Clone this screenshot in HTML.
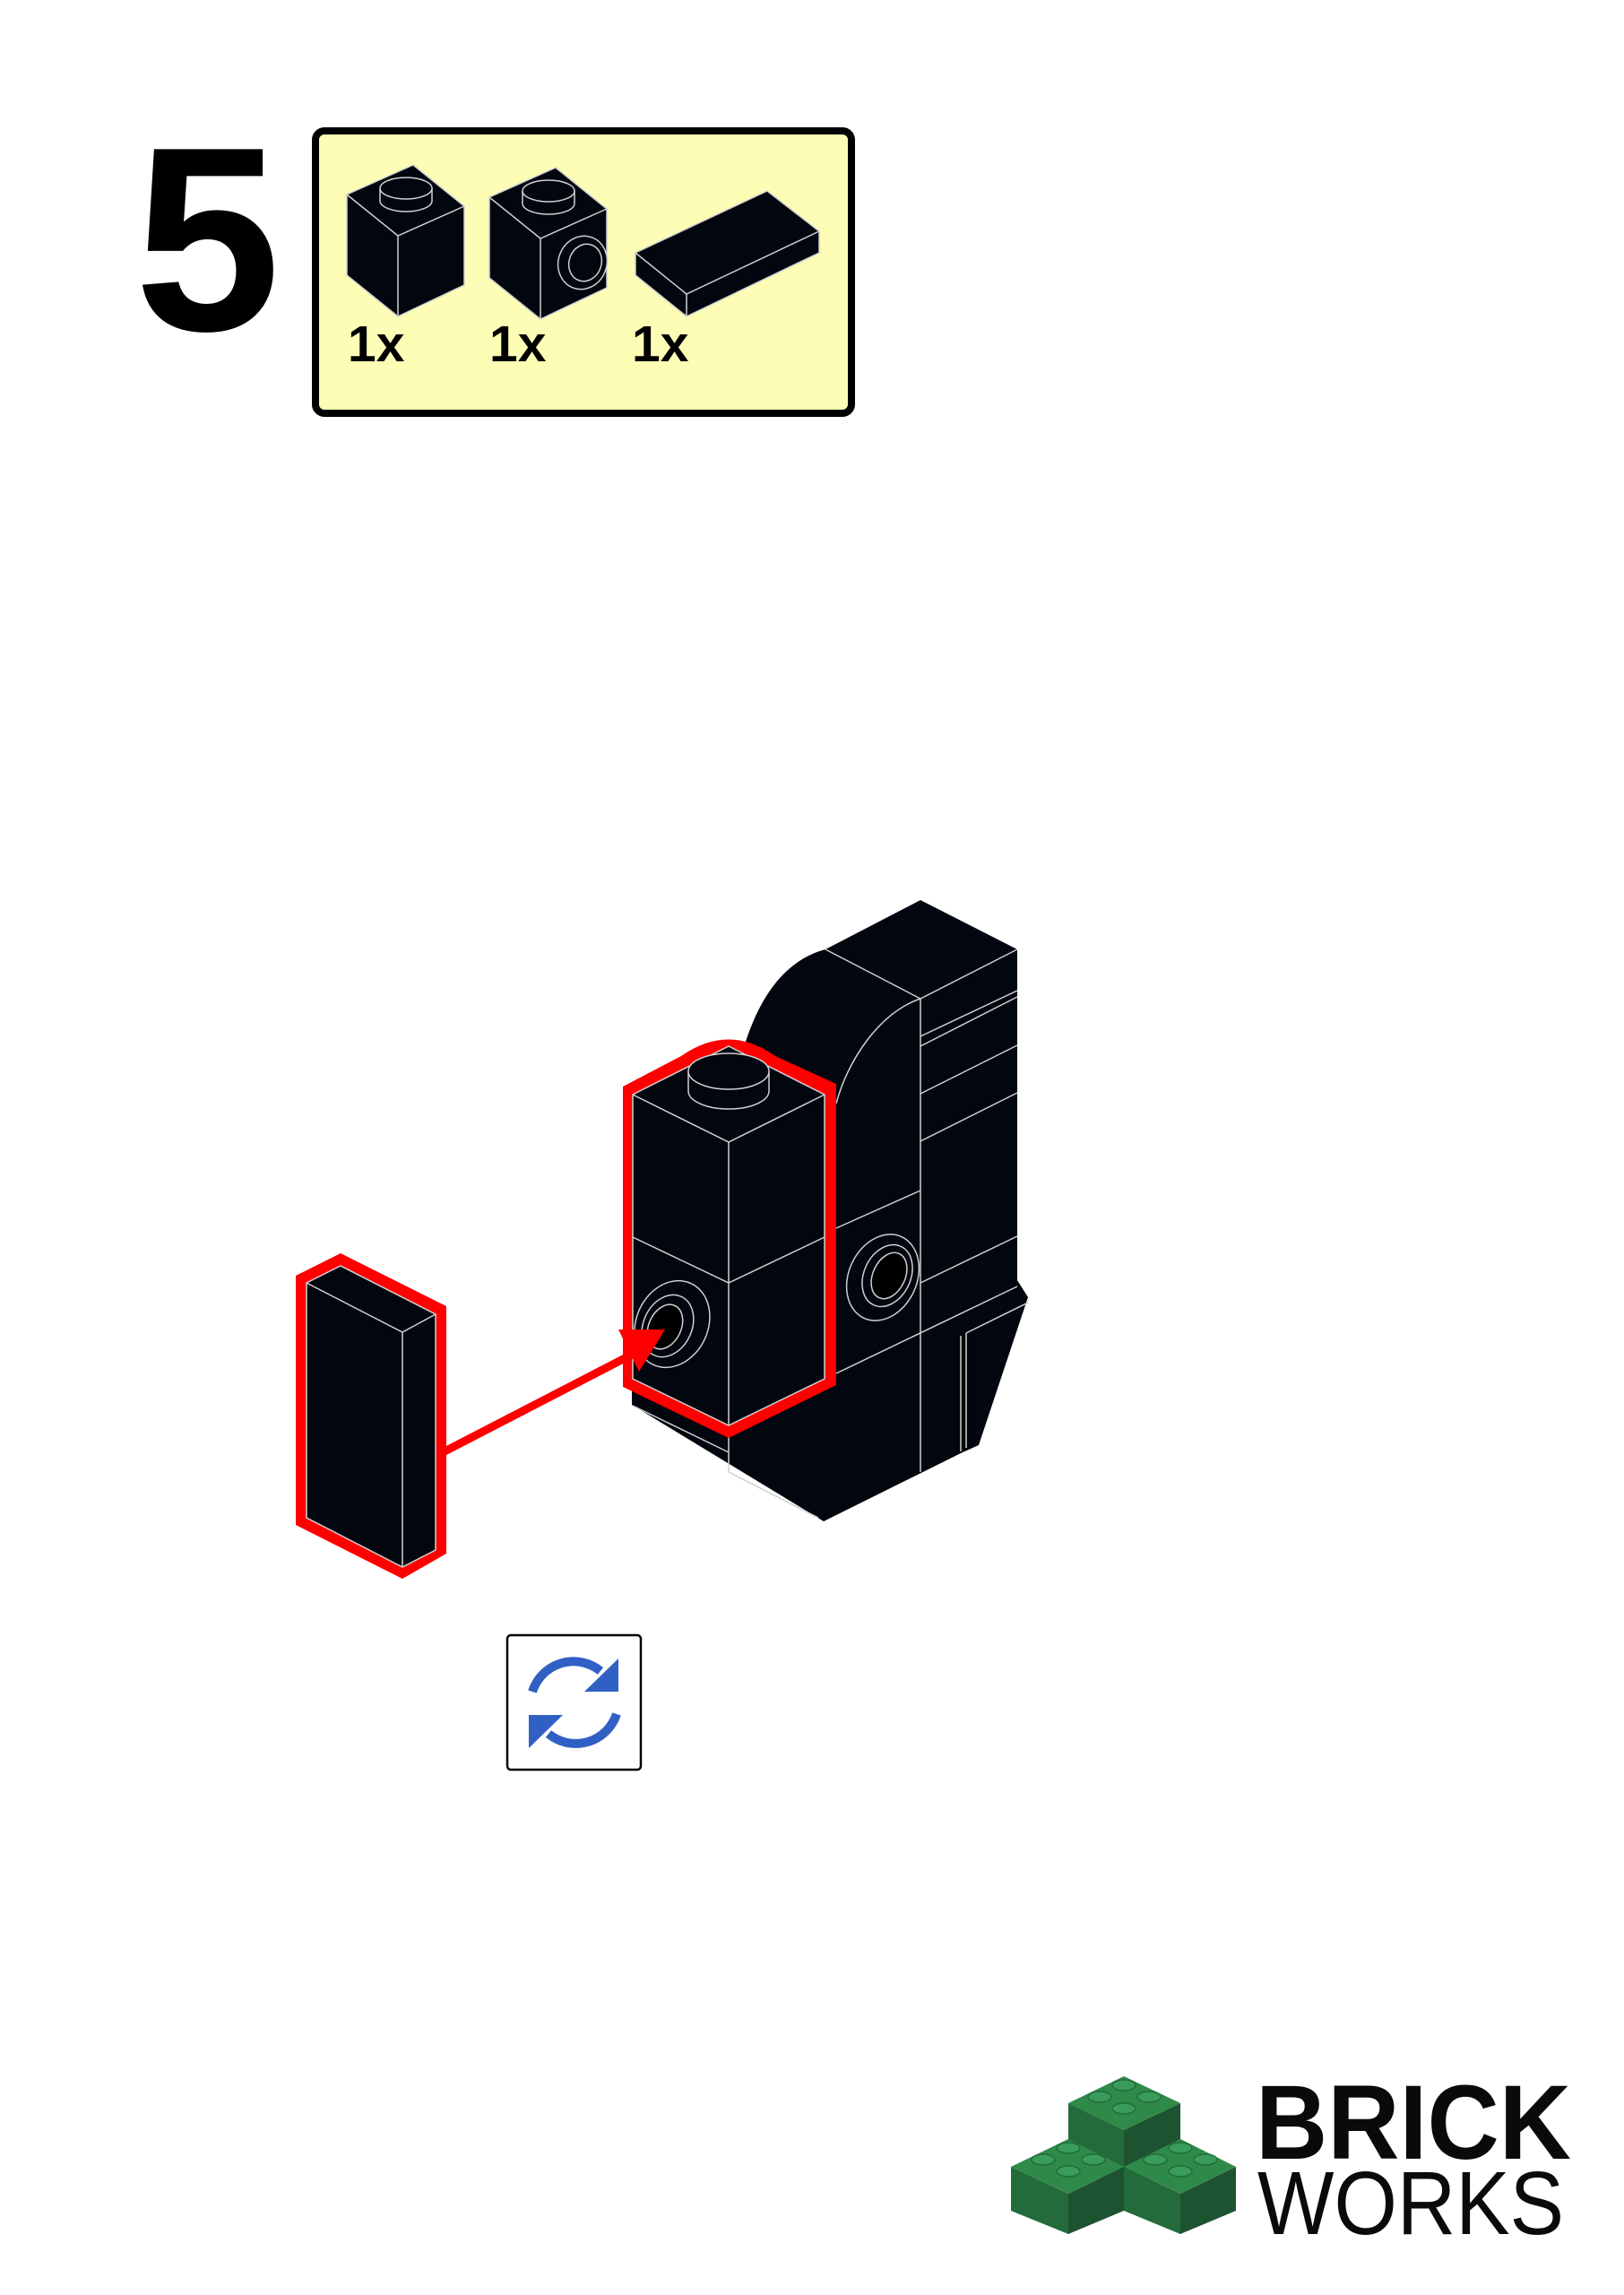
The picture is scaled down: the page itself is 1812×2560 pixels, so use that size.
<!DOCTYPE html>
<html><head><meta charset="utf-8"><style>
html,body{margin:0;padding:0;background:#fff;}
svg{display:block;}
</style></head><body>
<svg width="1812" height="2560" viewBox="0 0 1812 2560" xmlns="http://www.w3.org/2000/svg">
<rect width="1812" height="2560" fill="#fff"/>
<text x="150" y="368" font-family="Liberation Sans, sans-serif" font-weight="bold" font-size="293" fill="#000">5</text>
<rect x="352" y="146" width="598" height="315" rx="10" fill="#fdfdb6" stroke="#000" stroke-width="8"/>
<g stroke="#d0d0d0" stroke-width="1.5" fill="#02060e">
  <polygon points="461,184 518,230 518,318 444,353 387,307 387,217"/>
  <polyline points="387,217 444,263 518,230" fill="none"/>
  <line x1="444" y1="263" x2="444" y2="353"/>
  <path d="M424,210 L424,224 A29,12 0 0 0 482,224 L482,210" />
  <ellipse cx="453" cy="210" rx="29" ry="12"/>
  <polygon points="620,187 677,233 677,321 603,356 546,310 546,220"/>
  <polyline points="546,220 603,266 677,233" fill="none"/>
  <line x1="603" y1="266" x2="603" y2="356"/>
  <path d="M583,213 L583,227 A29,12 0 0 0 641,227 L641,213"/>
  <ellipse cx="612" cy="213" rx="29" ry="12"/>
  <ellipse cx="650" cy="293" rx="27" ry="30" transform="rotate(20 650 293)"/>
  <ellipse cx="653" cy="293" rx="18" ry="21" transform="rotate(20 653 293)"/>
  <polygon points="856,213 914,258 914,282 766,353 709,307 709,282"/>
  <polyline points="709,282 766,328 914,258" fill="none"/>
  <line x1="766" y1="328" x2="766" y2="353"/>
</g>
<g font-family="Liberation Sans, sans-serif" font-weight="bold" font-size="57" fill="#000">
  <text x="388" y="403">1x</text>
  <text x="546" y="403">1x</text>
  <text x="705" y="403">1x</text>
</g>

<g transform="translate(0,-5)">
<g stroke="#d0d0d0" stroke-width="1.5">
  <path d="M831,1170 C850,1110 880,1075 921,1064 L1027,1009 L1135,1064 L1135,1433 L1147,1452 L1092,1617 L1072,1626 L919,1702 L705,1572 L705,1300 Z" fill="#02060e" stroke="none"/>
  <g fill="none">
    <polyline points="921,1064 1027,1119 1135,1064"/>
    <line x1="1027" y1="1119" x2="1027" y2="1647"/>
    <line x1="1027" y1="1161" x2="1135" y2="1110"/>
    <line x1="1027" y1="1172" x2="1135" y2="1117"/>
    <line x1="1027" y1="1225" x2="1135" y2="1171"/>
    <line x1="1027" y1="1278" x2="1135" y2="1224"/>
    <line x1="933" y1="1375" x2="1027" y2="1333"/>
    <line x1="1027" y1="1436" x2="1135" y2="1384"/>
    <line x1="933" y1="1537" x2="1135" y2="1440"/>
    <path d="M1027,1119 C980,1135 945,1190 933,1236"/>
    <line x1="1072" y1="1495" x2="1072" y2="1624"/>
    <line x1="1078" y1="1492" x2="1078" y2="1620"/>
    <line x1="1078" y1="1492" x2="1147" y2="1458"/>
    <line x1="706" y1="1573" x2="813" y2="1625"/>
    <line x1="813" y1="1647" x2="913" y2="1698"/>
    <line x1="813" y1="1600" x2="813" y2="1647"/>
  </g>
  <ellipse cx="985" cy="1430" rx="38" ry="50" transform="rotate(25 985 1430)" fill="#02060e"/>
  <ellipse cx="990" cy="1428" rx="26" ry="36" transform="rotate(25 990 1428)" fill="#02060e"/>
  <ellipse cx="992" cy="1428" rx="18" ry="27" transform="rotate(25 992 1428)" fill="#000"/>
</g>

<path d="M695,1217 L760,1183 Q813,1146 865,1183 L933,1214 L933,1550 L813,1609 L695,1552 Z" fill="#f00"/>
<g stroke="#d0d0d0" stroke-width="1.5" fill="#02060e">
  <polygon points="813,1172 920,1226 920,1543 813,1595 706,1543 706,1226"/>
  <g fill="none">
    <polyline points="706,1226 813,1279 920,1226"/>
    <line x1="813" y1="1279" x2="813" y2="1595"/>
    <polyline points="706,1385 813,1436 920,1385"/>
  </g>
  <path d="M768,1200 L768,1222 A45,20 0 0 0 858,1222 L858,1200"/>
  <ellipse cx="813" cy="1200" rx="45" ry="20"/>
  <ellipse cx="750" cy="1482" rx="40" ry="50" transform="rotate(25 750 1482)"/>
  <ellipse cx="745" cy="1484" rx="27" ry="36" transform="rotate(25 745 1484)"/>
  <ellipse cx="742" cy="1485" rx="18" ry="26" transform="rotate(25 742 1485)" fill="#000"/>
</g>

<polygon points="380,1403 498,1462 498,1738 449,1766 330,1706 330,1428" fill="#f00"/>
<g stroke="#d0d0d0" stroke-width="1.5" fill="#02060e">
  <polygon points="380,1417 486,1471 486,1734 449,1753 342,1698 342,1436"/>
  <polyline points="342,1436 449,1491 486,1471" fill="none"/>
  <line x1="449" y1="1491" x2="449" y2="1753"/>
</g>
<line x1="496" y1="1624" x2="705" y2="1516" stroke="#f00" stroke-width="9"/>
<polygon points="690,1488 742,1488 713,1535" fill="#f00"/>
</g>

<rect x="566" y="1824" width="149" height="150" rx="4" fill="#fff" stroke="#000" stroke-width="2.5"/>
<g fill="none" stroke="#3060c4" stroke-width="10">
  <path d="M594,1887 A48,48 0 0 1 670,1864"/>
  <path d="M688,1912 A48,48 0 0 1 612,1934"/>
</g>
<polygon points="652,1887 690,1850 690,1887" fill="#3060c4"/>
<polygon points="590,1913 628,1913 590,1950" fill="#3060c4"/>

<g transform="translate(0,-14)">
  <polygon points="1192,2360 1254,2390 1254,2460 1192,2430" fill="#236b3a"/>
  <polygon points="1254,2390 1317,2360 1317,2430 1254,2460" fill="#1e5332"/>
  <polygon points="1254,2330 1317,2360 1254,2390 1192,2360" fill="#2f8a4a"/>
  <polygon points="1128,2431 1192,2461 1192,2506 1128,2480" fill="#236b3a"/>
  <polygon points="1192,2461 1254,2431 1254,2480 1192,2506" fill="#1e5332"/>
  <polygon points="1192,2400 1254,2431 1192,2461 1128,2431" fill="#2f8a4a"/>
  <polygon points="1254,2431 1317,2461 1317,2506 1254,2480" fill="#236b3a"/>
  <polygon points="1317,2461 1379,2431 1379,2480 1317,2506" fill="#1e5332"/>
  <polygon points="1317,2400 1379,2431 1317,2461 1254,2431" fill="#2f8a4a"/>
  <g fill="#3a9c5a" stroke="#236b3a" stroke-width="1.5">
    <ellipse cx="1254" cy="2340" rx="13" ry="6"/><ellipse cx="1227" cy="2353" rx="13" ry="6"/><ellipse cx="1282" cy="2353" rx="13" ry="6"/><ellipse cx="1254" cy="2366" rx="13" ry="6"/>
    <ellipse cx="1192" cy="2410" rx="13" ry="6"/><ellipse cx="1164" cy="2423" rx="13" ry="6"/><ellipse cx="1220" cy="2423" rx="13" ry="6"/><ellipse cx="1192" cy="2436" rx="13" ry="6"/>
    <ellipse cx="1317" cy="2410" rx="13" ry="6"/><ellipse cx="1289" cy="2423" rx="13" ry="6"/><ellipse cx="1345" cy="2423" rx="13" ry="6"/><ellipse cx="1317" cy="2436" rx="13" ry="6"/>
  </g>
</g>
<text x="1401" y="2408" font-family="Liberation Sans, sans-serif" font-weight="bold" font-size="118" fill="#0a0a0a" textLength="352" lengthAdjust="spacingAndGlyphs">BRICK</text>
<text x="1403" y="2492" font-family="Liberation Sans, sans-serif" font-size="100" fill="#0a0a0a" textLength="342" lengthAdjust="spacingAndGlyphs">WORKS</text>
</svg>
</body></html>
